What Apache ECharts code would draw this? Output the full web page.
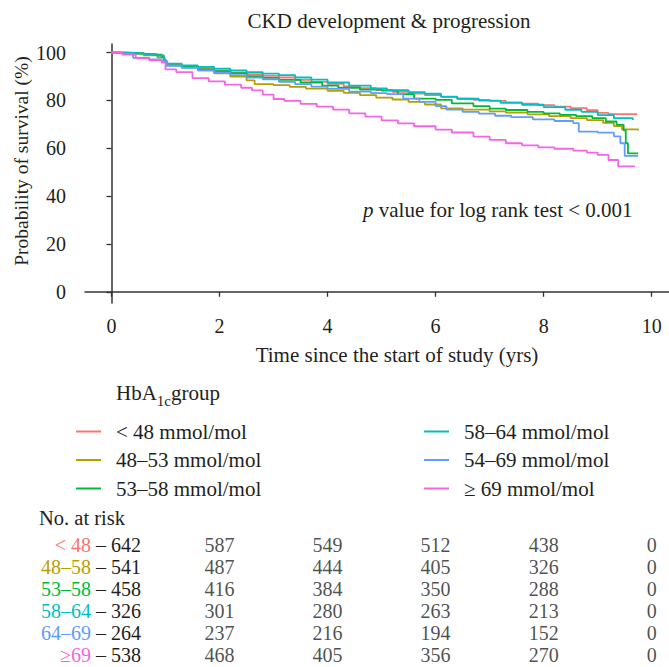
<!DOCTYPE html>
<html>
<head>
<meta charset="utf-8">
<script src="https://cdn.jsdelivr.net/npm/echarts@6/dist/echarts.min.js"></script>
<style>html,body{margin:0;padding:0;background:#fff;}#c{width:669px;height:667px;}</style>
</head>
<body>
<div id="c"></div>
<script>
// ---- data ----
const groupNames = ['< 48 mmol/mol', '48\u201353 mmol/mol', '53\u201358 mmol/mol', '58\u201364 mmol/mol', '54\u201369 mmol/mol', '\u2265 69 mmol/mol'];
const riskLabels = ['< 48', '48\u201358', '53\u201358', '58\u201364', '64\u201369', '\u226569'];
const colors = ['#F8766D', '#B79F00', '#00BA38', '#00BFC4', '#619CFF', '#F564E3'];
const xTicks = [0, 2, 4, 6, 8, 10];
const yTicks = [0, 20, 40, 60, 80, 100];
const riskTimes = [0, 2, 4, 6, 8, 10];

const survLt48 = [[0,100],[0.3,99.8],[0.6,99.3],[0.85,98.8],[0.97,96.5],[1.02,95.2],[1.3,94.4],[1.6,93.5],[1.9,92.6],[2.2,91.7],[2.5,91.0],[2.8,90.3],[3.1,89.6],[3.4,88.6],[3.7,87.8],[4.0,86.9],[4.3,85.9],[4.6,85.1],[4.9,84.3],[5.2,83.6],[5.5,82.9],[5.8,82.2],[6.1,81.6],[6.4,80.7],[6.7,80.2],[7.0,79.8],[7.3,79.2],[7.6,78.7],[7.9,78.0],[8.2,77.4],[8.5,76.8],[8.8,75.9],[9.0,74.8],[9.2,74.3],[9.72,73.9]];
const surv48_53 = [[0,100],[0.3,99.6],[0.6,98.9],[0.85,98.0],[0.98,96.2],[1.02,95.0],[1.3,93.8],[1.6,92.6],[1.9,91.3],[2.2,90.0],[2.5,88.4],[2.65,86.8],[3.0,86.4],[3.3,85.7],[3.6,84.9],[4.0,84.0],[4.3,83.2],[4.6,82.2],[4.9,81.2],[5.2,80.4],[5.5,79.4],[5.8,78.3],[6.1,76.7],[6.5,76.2],[7.0,75.4],[7.3,74.9],[7.7,74.2],[8.1,73.4],[8.5,72.6],[8.8,71.8],[9.1,70.6],[9.3,69.3],[9.45,67.9],[9.75,67.4]];
const surv53_58 = [[0,100],[0.2,99.6],[0.5,99.4],[0.8,99.1],[0.93,98.0],[0.98,96.0],[1.03,94.7],[1.3,94.0],[1.6,93.0],[1.9,92.2],[2.2,91.4],[2.5,90.2],[2.8,89.4],[3.1,88.6],[3.5,87.5],[3.9,86.2],[4.2,85.3],[4.6,84.5],[5.0,84.1],[5.3,82.6],[5.6,80.8],[6.0,80.2],[6.3,78.8],[6.7,77.6],[7.0,76.6],[7.3,76.0],[7.7,75.2],[8.0,74.6],[8.3,74.0],[8.6,73.4],[8.9,72.6],[9.15,71.2],[9.35,69.8],[9.48,67.5],[9.52,62.1],[9.56,57.9],[9.75,57.9]];
const surv58_64 = [[0,100],[0.3,99.8],[0.6,99.2],[0.85,98.7],[0.97,96.8],[1.02,95.4],[1.3,94.6],[1.6,94.0],[1.9,93.3],[2.2,92.6],[2.5,91.8],[2.8,91.2],[3.1,90.6],[3.4,89.6],[3.7,88.7],[4.0,87.5],[4.4,86.2],[4.8,85.0],[5.1,84.3],[5.5,83.5],[5.8,82.8],[6.1,81.5],[6.4,80.7],[6.8,79.9],[7.2,79.0],[7.6,78.2],[8.0,77.2],[8.4,76.1],[8.7,75.2],[9.0,73.9],[9.3,72.6],[9.65,71.8]];
const surv54_69 = [[0,100],[0.2,99.4],[0.4,97.8],[0.7,97.2],[0.93,96.4],[1.02,94.5],[1.3,93.6],[1.6,92.6],[1.9,91.6],[2.2,90.6],[2.5,89.5],[2.8,88.8],[3.1,87.8],[3.4,86.8],[3.7,85.8],[4.0,84.8],[4.4,83.7],[4.8,83.1],[5.1,82.6],[5.4,80.8],[5.7,79.4],[6.0,77.6],[6.2,76.2],[6.5,75.2],[6.8,74.5],[7.1,73.6],[7.4,73.0],[7.8,72.1],[8.2,71.4],[8.55,70.5],[8.65,67.0],[9.0,66.5],[9.3,65.0],[9.42,62.1],[9.5,56.8],[9.75,56.8]];
const survGe69 = [[0,100],[0.2,99.2],[0.45,97.6],[0.7,96.8],[0.93,95.8],[1.0,93.0],[1.2,91.8],[1.5,89.3],[1.8,88.0],[2.1,86.6],[2.4,85.3],[2.6,84.2],[2.8,82.4],[3.0,80.6],[3.2,79.8],[3.5,78.6],[3.8,77.4],[4.1,76.2],[4.4,74.6],[4.7,73.2],[5.0,71.7],[5.3,70.4],[5.6,69.2],[6.0,67.8],[6.3,66.6],[6.7,64.9],[7.0,63.5],[7.3,62.1],[7.6,61.2],[7.9,60.4],[8.2,59.8],[8.55,59.0],[8.8,58.2],[9.0,57.2],[9.2,55.1],[9.38,52.4],[9.69,52.3]];

const riskLt48 = [642, 587, 549, 512, 438, 0];
const risk48_58 = [541, 487, 444, 405, 326, 0];
const risk53_58 = [458, 416, 384, 350, 288, 0];
const risk58_64 = [326, 301, 280, 263, 213, 0];
const risk64_69 = [264, 237, 216, 194, 152, 0];
const riskGe69 = [538, 468, 405, 356, 270, 0];

// ---- build ----
const survAll = [survLt48, surv48_53, surv53_58, surv58_64, surv54_69, survGe69];
const riskAll = [riskLt48, risk48_58, risk53_58, risk58_64, risk64_69, riskGe69];
const FONT = 'Liberation Serif';
const TXT = '#231f20';

const lineSeries = survAll.map((d, i) => ({
  name: groupNames[i], type: 'line', step: 'end', data: d,
  xAxisIndex: 0, yAxisIndex: 0, symbol: 'none', silent: true,
  lineStyle: { color: colors[i], width: 1.8 }, itemStyle: { color: colors[i] }
}));

const riskPoints = [];
riskAll.forEach((arr, g) => {
  arr.forEach((v, k) => { if (k > 0) riskPoints.push([riskTimes[k], g, v]); });
});

const rich = {};
colors.forEach((c, i) => { rich['g' + i] = { color: c, fontFamily: FONT, fontSize: 20 }; });
rich.n = { color: TXT, fontFamily: FONT, fontSize: 20 };

const chart = echarts.init(document.getElementById('c'), null, { renderer: 'svg' });
chart.setOption({
  animation: false,
  backgroundColor: '#fff',
  textStyle: { fontFamily: FONT },
  grid: [
    { left: 85, top: 44, width: 584, height: 259 },
    { left: 85, top: 534, width: 584, height: 132 }
  ],
  xAxis: [
    { gridIndex: 0, type: 'value', min: -0.49, max: 10.32,
      axisLine: { show: true, lineStyle: { color: '#333', width: 1.5 } },
      axisTick: { show: true, length: 5, customValues: xTicks, lineStyle: { color: '#333', width: 1.3 } },
      axisLabel: { customValues: xTicks, margin: 13, fontSize: 20, color: TXT, fontFamily: FONT },
      splitLine: { show: false } },
    { gridIndex: 1, type: 'value', min: -0.49, max: 10.32, show: false }
  ],
  yAxis: [
    { gridIndex: 0, type: 'value', min: -4.7, max: 103.6,
      axisLine: { show: true, lineStyle: { color: '#333', width: 1.5 } },
      axisTick: { show: true, length: 5, customValues: yTicks, lineStyle: { color: '#333', width: 1.3 } },
      axisLabel: { customValues: yTicks, margin: 19, fontSize: 20, color: TXT, fontFamily: FONT },
      splitLine: { show: false } },
    { gridIndex: 1, type: 'category', inverse: true, data: riskLabels, offset: -56,
      axisLine: { show: false }, axisTick: { show: false },
      axisLabel: { margin: 0, formatter: (v, idx) => '{g' + idx + '|' + v + '}{n| \u2013 ' + riskAll[idx][0] + '}', rich: rich } }
  ],
  legend: [
    { data: groupNames.slice(0, 3), orient: 'vertical', left: 76, top: 421, padding: 0, itemWidth: 25, itemHeight: 2, itemGap: 7.5, icon: 'rect',
      textStyle: { fontFamily: FONT, fontSize: 21, color: TXT, padding: [0, 0, 0, 10] } },
    { data: groupNames.slice(3), orient: 'vertical', left: 424, top: 421, padding: 0, itemWidth: 25, itemHeight: 2, itemGap: 7.5, icon: 'rect',
      textStyle: { fontFamily: FONT, fontSize: 21, color: TXT, padding: [0, 0, 0, 10] } }
  ],
  graphic: [
    { type: 'text', x: 389, y: 21, style: { text: 'CKD development & progression', font: '21px "Liberation Serif"', fill: TXT, textAlign: 'center', textVerticalAlign: 'middle' } },
    { type: 'text', x: 21, y: 161, rotation: Math.PI / 2, style: { text: 'Probability of survival (%)', font: '19.5px "Liberation Serif"', fill: TXT, textAlign: 'center', textVerticalAlign: 'middle' } },
    { type: 'text', x: 397, y: 355, style: { text: 'Time since the start of study (yrs)', font: '21px "Liberation Serif"', fill: TXT, textAlign: 'center', textVerticalAlign: 'middle' } },
    { type: 'text', x: 363, y: 210, style: { text: '{i|p} value for log rank test < 0.001', font: '21px "Liberation Serif"', fill: TXT, textVerticalAlign: 'middle',
      rich: { i: { fontStyle: 'italic', fontFamily: FONT, fontSize: 21, fill: TXT } } } },
    { type: 'text', x: 116, y: 393, style: { text: 'HbA{s|1c}group', font: '21px "Liberation Serif"', fill: TXT, textVerticalAlign: 'middle',
      rich: { s: { fontFamily: FONT, fontSize: 15, padding: [16, 0, 0, 0], fill: TXT } } } },
    { type: 'text', x: 39, y: 518, style: { text: 'No. at risk', font: '20.5px "Liberation Serif"', fill: TXT, textVerticalAlign: 'middle' } }
  ],
  series: lineSeries.concat([
    { type: 'scatter', xAxisIndex: 1, yAxisIndex: 1, data: riskPoints, symbolSize: 1, silent: true,
      itemStyle: { color: 'rgba(0,0,0,0)' },
      label: { show: true, position: 'inside', formatter: p => String(p.value[2]), fontFamily: FONT, fontSize: 20, color: TXT } }
  ])
});
</script>
</body>
</html>
